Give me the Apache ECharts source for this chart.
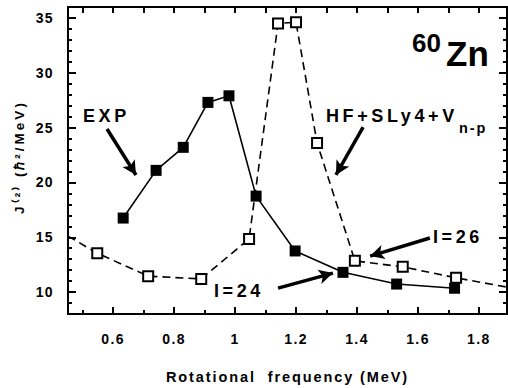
<!DOCTYPE html>
<html><head><meta charset="utf-8">
<script src="https://cdn.jsdelivr.net/npm/echarts@6/dist/echarts.min.js"></script>
<style>
html,body{margin:0;padding:0;background:#fff}
#c{width:508px;height:388px}
#c svg text[style*="18px"]{letter-spacing:3.6px}
#c svg text[style*="14.5px"]{letter-spacing:1.9px}
#c svg text[style*="14px"]{letter-spacing:1.4px}
#c svg text[style*="13.5px"]{letter-spacing:3px}
</style>
</head><body><div id="c"></div>
<script>
// Experimental J(2)
const expX = [0.633, 0.741, 0.83, 0.911, 0.98, 1.069, 1.197, 1.354, 1.53, 1.72];
const expY = [16.75, 21.1, 23.2, 27.3, 27.9, 18.75, 13.75, 11.8, 10.73, 10.35];
// HF+SLy4+Vn-p (first and last entries are line continuations without markers)
const hfX = [0.452, 0.548, 0.715, 0.889, 1.046, 1.141, 1.2, 1.269, 1.393, 1.55, 1.725, 1.892];
const hfY = [15.1, 13.55, 11.45, 11.2, 14.85, 34.5, 34.6, 23.6, 12.85, 12.3, 11.3, 10.45];
const hfMarked = [false, true, true, true, true, true, true, true, true, true, true, false];
// axes
const xLabels = [0.6, 0.8, 1.0, 1.2, 1.4, 1.6, 1.8];
const xMinor = [0.5, 0.7, 0.9, 1.1, 1.3, 1.5, 1.7];
const xAllTicks = [0.5, 0.6, 0.7, 0.8, 0.9, 1.0, 1.1, 1.2, 1.3, 1.4, 1.5, 1.6, 1.7, 1.8];
const yLabels = [10, 15, 20, 25, 30, 35];
const yMinor = [9, 11, 12, 13, 14, 16, 17, 18, 19, 21, 22, 23, 24, 26, 27, 28, 29, 31, 32, 33, 34];
// annotation arrows [fromX, fromY, toX, toY] in data units
const arrows = [
  [0.58, 24.87, 0.675, 20.68],
  [1.42, 25.05, 1.331, 20.68],
  [1.639, 14.93, 1.443, 13.28],
  [1.141, 10.36, 1.321, 11.73]
];

const FONT = '"Liberation Sans", Arial, sans-serif';
const X_MIN = 0.452, X_MAX = 1.892, Y_MIN = 8, Y_MAX = 36;
const axisLineStyle = {color: '#000', width: 2};

const chart = echarts.init(document.getElementById('c'), null, {renderer: 'svg'});

function xAxisCfg(pos, ticks, len, withLabels) {
  return {
    type: 'value', position: pos, min: X_MIN, max: X_MAX,
    axisLine: {show: true, onZero: false, lineStyle: axisLineStyle},
    axisTick: {show: true, inside: true, length: len, customValues: ticks, lineStyle: {color: '#000', width: 2}},
    axisLabel: withLabels ? {
      show: true, customValues: xLabels, margin: 18,
      formatter: v => (Math.abs(v - 1) < 1e-9 ? '1' : v.toFixed(1)),
      color: '#000', fontFamily: FONT, fontWeight: 'bold', fontSize: 14
    } : {show: false},
    splitLine: {show: false},
    name: withLabels ? 'Rotational  frequency (MeV)' : '',
    nameLocation: 'middle', nameGap: 55,
    nameTextStyle: {color: '#000', fontFamily: FONT, fontWeight: 'bold', fontSize: 14.5}
  };
}
function yAxisCfg(pos, ticks, len, withLabels) {
  return {
    type: 'value', position: pos, min: Y_MIN, max: Y_MAX,
    axisLine: {show: true, onZero: false, lineStyle: axisLineStyle},
    axisTick: {show: true, inside: true, length: len, customValues: ticks, lineStyle: {color: '#000', width: 2}},
    axisLabel: withLabels ? {
      show: true, customValues: yLabels, margin: 14,
      color: '#000', fontFamily: FONT, fontWeight: 'bold', fontSize: 14
    } : {show: false},
    splitLine: {show: false}
  };
}

const expData = expX.map((x, i) => [x, expY[i]]);
const hfData = hfX.map((x, i) => hfMarked[i] ? [x, hfY[i]] : {value: [x, hfY[i]], symbol: 'none'});

const option = {
  animation: false,
  backgroundColor: '#fff',
  grid: {left: 68, right: 1, top: 7, bottom: 74, outerBoundsMode: 'none', containLabel: false},
  xAxis: [
    xAxisCfg('bottom', xLabels, 7, true),
    xAxisCfg('bottom', xMinor, 4, false),
    xAxisCfg('top', xAllTicks, 6, false)
  ],
  yAxis: [
    yAxisCfg('left', yLabels, 8, true),
    yAxisCfg('left', yMinor, 4, false),
    yAxisCfg('right', yLabels, 8, false),
    yAxisCfg('right', yMinor, 4, false)
  ],
  series: [
    {
      name: 'EXP', type: 'line', data: expData, xAxisIndex: 0, yAxisIndex: 0,
      symbol: 'rect', symbolSize: 11, showSymbol: true,
      itemStyle: {color: '#000'},
      lineStyle: {color: '#000', width: 1.6, type: 'solid'},
      silent: true, z: 2,
      markLine: {
        silent: true, symbol: ['none', 'arrow'], symbolSize: [11, 14],
        lineStyle: {color: '#000', width: 3.5, type: 'solid'},
        label: {show: false},
        data: arrows.map(a => [{coord: [a[0], a[1]]}, {coord: [a[2], a[3]]}])
      }
    },
    {
      name: 'HF+SLy4+Vn-p', type: 'line', data: hfData, xAxisIndex: 0, yAxisIndex: 0,
      symbol: 'rect', symbolSize: 10, showSymbol: true,
      itemStyle: {color: '#fff', borderColor: '#000', borderWidth: 2},
      lineStyle: {color: '#000', width: 1.6, type: [8, 5]},
      silent: true, z: 3
    }
  ],
  graphic: [
    {
      type: 'text', x: 19, y: 157, rotation: Math.PI / 2,
      style: {
        text: 'J⁽²⁾ (ℏ²/MeV)', font: 'bold 13.5px ' + FONT,
        align: 'center', verticalAlign: 'middle', fill: '#000'
      }
    },
    {type: 'text', left: 83, top: 107, style: {text: 'EXP', font: 'bold 18px ' + FONT, fill: '#000'}},
    {type: 'text', left: 326, top: 107, style: {text: 'HF+SLy4+V', font: 'bold 18px ' + FONT, fill: '#000'}},
    {type: 'text', left: 459, top: 120, style: {text: 'n-p', font: 'bold 14.5px ' + FONT, fill: '#000'}},
    {type: 'text', left: 433, top: 228, style: {text: 'I=26', font: 'bold 18px ' + FONT, fill: '#000'}},
    {type: 'text', left: 214, top: 282, style: {text: 'I=24', font: 'bold 18px ' + FONT, fill: '#000'}},
    {type: 'text', left: 412, top: 30, style: {text: '60', font: 'bold 26px ' + FONT, fill: '#000'}},
    {type: 'text', left: 446, top: 36, style: {text: 'Zn', font: 'bold 35px ' + FONT, fill: '#000'}}
  ]
};
chart.setOption(option);
</script>
</body></html>
